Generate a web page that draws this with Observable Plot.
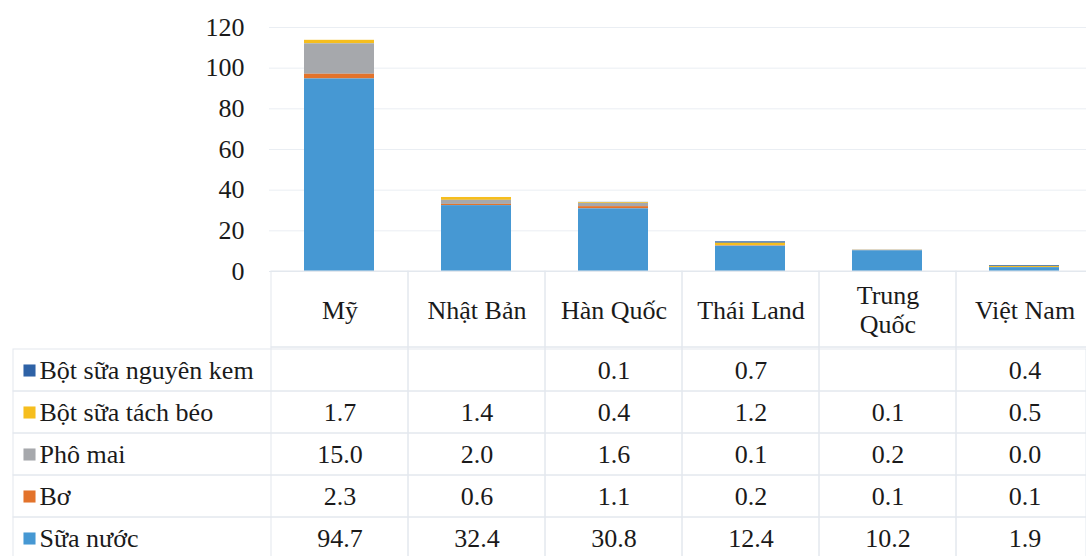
<!DOCTYPE html>
<html>
<head>
<meta charset="utf-8">
<script src="https://cdn.jsdelivr.net/npm/d3@7"></script>
<script src="https://cdn.jsdelivr.net/npm/@observablehq/plot@0.6"></script>
<style>
  html, body { margin: 0; padding: 0; background: #fff; overflow: hidden; width: 1086px; height: 556px; }
  #chart svg { display: block; max-width: none; overflow: visible; }
  #chart svg text { font-family: "Liberation Serif", "DejaVu Serif", serif !important; }
</style>
</head>
<body>
<div id="chart"></div>
<script>
// ---- data ----
const countries = ["Mỹ", "Nhật Bản", "Hàn Quốc", "Thái Land", "Trung Quốc", "Việt Nam"];
const countryLabels = ["Mỹ", "Nhật Bản", "Hàn Quốc", "Thái Land", "Trung\nQuốc", "Việt Nam"];
// table order (top to bottom)
const seriesNames = ["Bột sữa nguyên kem", "Bột sữa tách béo", "Phô mai", "Bơ", "Sữa nước"];
const seriesColors = ["#2E62A6", "#F6BE1E", "#A6A8AC", "#E3732B", "#4698D3"];
// stack order (bottom to top)
const stackOrder = ["Sữa nước", "Bơ", "Phô mai", "Bột sữa tách béo", "Bột sữa nguyên kem"];

const botSuaNguyenKem = [null, null, 0.1, 0.7, null, 0.4];
const botSuaTachBeo   = [1.7, 1.4, 0.4, 1.2, 0.1, 0.5];
const phoMai          = [15.0, 2.0, 1.6, 0.1, 0.2, 0.0];
const bo              = [2.3, 0.6, 1.1, 0.2, 0.1, 0.1];
const suaNuoc         = [94.7, 32.4, 30.8, 12.4, 10.2, 1.9];
const yTicks = [0, 20, 40, 60, 80, 100, 120];

const seriesValues = [botSuaNguyenKem, botSuaTachBeo, phoMai, bo, suaNuoc];
const rows = [];
seriesNames.forEach((s, i) => {
  countries.forEach((c, j) => rows.push({series: s, country: c, value: seriesValues[i][j]}));
});
const present = rows.filter(d => d.value != null);

const font = "'Liberation Serif', 'DejaVu Serif', serif";
const grid = "#e3e8ee";
const ink = "#1a1a1a";
const xRange = [269, 1094];
const color = {domain: seriesNames, range: seriesColors};
const baseStyle = {fontFamily: font, fontSize: "26px", color: ink, background: "transparent", overflow: "visible"};
const txt = {fontFamily: font, fontSize: 26, fill: ink};

// ---- bar chart ----
const bars = Plot.plot({
  width: 1086, height: 271,
  marginLeft: 269, marginRight: 0, marginTop: 27, marginBottom: 0,
  style: baseStyle,
  x: {type: "band", domain: countries, range: xRange, paddingInner: 0.49, paddingOuter: 0.245, axis: null},
  y: {domain: [0, 120], label: null},
  color,
  marks: [
    Plot.gridY(yTicks, {stroke: "#eaeef3", strokeOpacity: 1}),
    Plot.axisY(yTicks, {tickSize: 0, tickPadding: 25, label: null, ...txt}),
    Plot.barY(present, Plot.stackY({x: "country", y: "value", fill: "series", order: stackOrder})),
    Plot.ruleY([0], {stroke: grid})
  ]
});

// ---- header row (category labels) ----
const header = Plot.plot({
  width: 1086, height: 76,
  marginLeft: 269, marginRight: 0, marginTop: 0, marginBottom: 0,
  style: baseStyle,
  x: {type: "band", domain: countries, range: xRange, padding: 0, axis: null},
  marks: [
    Plot.cell(countries, {x: d => d, fill: "none", stroke: grid}),
    Plot.text(countries, {x: d => d, frameAnchor: "middle", text: (d, i) => countryLabels[i],
      lineHeight: 1.08, ...txt})
  ]
});

// ---- data table ----
const table = Plot.plot({
  width: 1086, height: 214,
  marginLeft: 13, marginRight: 0, marginTop: 0, marginBottom: 0,
  style: baseStyle,
  x: {type: "band", domain: countries, range: xRange, padding: 0, axis: null},
  y: {type: "band", domain: seriesNames, padding: 0, axis: null},
  color,
  marks: [
    Plot.cell(seriesNames, {y: d => d, fill: "none", stroke: grid}),
    Plot.cell(countries, {x: d => d, fill: "none", stroke: grid}),
    Plot.text(present, {x: "country", y: "series", text: d => d3.format(".1f")(d.value), ...txt}),
    Plot.dot(seriesNames, {y: d => d, frameAnchor: "left", dx: 16, symbol: "square", r: 6.8, fill: d => d}),
    Plot.text(seriesNames, {y: d => d, frameAnchor: "left", dx: 26, textAnchor: "start", text: d => d, ...txt})
  ]
});

const root = document.getElementById("chart");
root.append(bars, header, table);
</script>
</body>
</html>
